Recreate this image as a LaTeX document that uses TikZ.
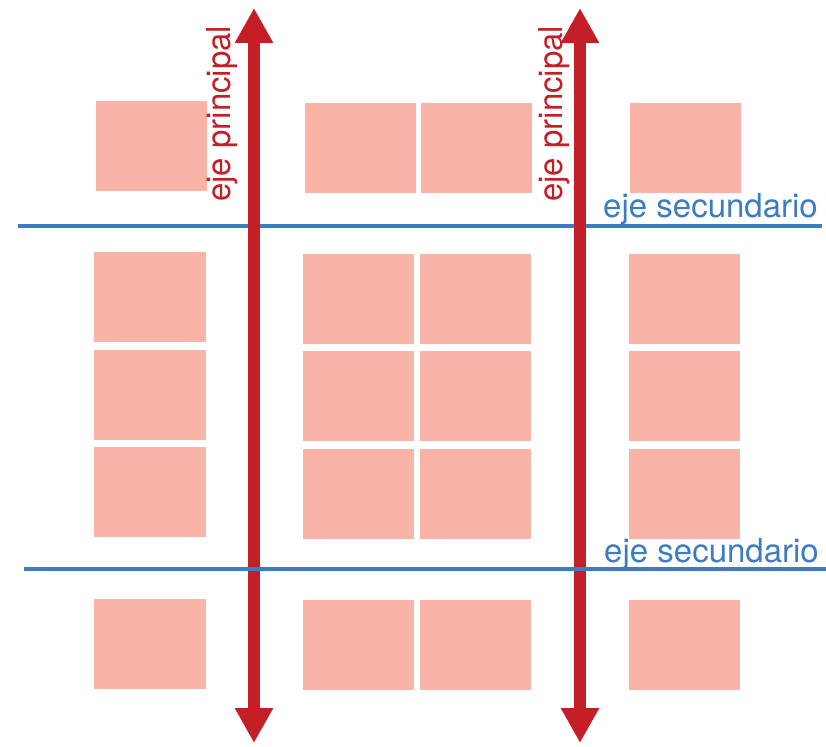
\documentclass[tikz,border=0pt]{standalone}
\usepackage{fontspec}
\setmainfont{TeX Gyre Heros}
\usetikzlibrary{arrows.meta}
\definecolor{tilepink}{HTML}{F9B3A7}
\definecolor{axisred}{HTML}{C41F26}
\definecolor{axisblue}{HTML}{3D7DBE}
\tikzset{
  tile/.style={fill=tilepink},
  mainaxis/.style={draw=axisred, line width=12pt,
    {Triangle[width=36pt,length=35pt]}-{Triangle[width=36pt,length=35pt]}},
  secaxis/.style={draw=axisblue, line width=4pt},
  redlabel/.style={text=axisred, font=\fontsize{33}{40}\selectfont, inner sep=0pt, rotate=90, anchor=base west},
  bluelabel/.style={text=axisblue, font=\fontsize{33}{40}\selectfont, inner sep=0pt, anchor=base west},
}
\begin{document}
\begin{tikzpicture}[x=1pt,y=-1pt]
\useasboundingbox (0,0) rectangle (826,746);
% top row
\fill[tile] (96,101) rectangle (207,191);
\fill[tile] (305,103) rectangle (416,193);
\fill[tile] (421,103) rectangle (532,193);
\fill[tile] (630,103) rectangle (741,193);
% middle block, left column
\fill[tile] (94,252) rectangle (206,342);
\fill[tile] (94,350) rectangle (206,440);
\fill[tile] (94,447) rectangle (206,537);
% middle block, centre columns
\fill[tile] (303,254) rectangle (414,344);
\fill[tile] (420,254) rectangle (531,344);
\fill[tile] (303,351) rectangle (414,441);
\fill[tile] (420,351) rectangle (531,441);
\fill[tile] (303,449) rectangle (414,539);
\fill[tile] (420,449) rectangle (531,539);
% middle block, right column
\fill[tile] (629,254) rectangle (740,344);
\fill[tile] (629,351) rectangle (740,441);
\fill[tile] (629,449) rectangle (740,539);
% bottom row
\fill[tile] (94,599) rectangle (206,689);
\fill[tile] (303,600) rectangle (414,690);
\fill[tile] (420,600) rectangle (531,690);
\fill[tile] (629,600) rectangle (740,690);

% axes coordinates
\coordinate (s1a) at (18,225.5);
\coordinate (s1b) at (822,225.5);
\coordinate (s2a) at (24,568.5);
\coordinate (s2b) at (826,568.5);
\coordinate (p1top) at (254,8);
\coordinate (p1bot) at (254,743);
\coordinate (p2top) at (580,8);
\coordinate (p2bot) at (580,743);

\draw[secaxis] (s1a) -- (s1b);
\draw[mainaxis] (p1top) -- (p1bot);
\draw[mainaxis] (p2top) -- (p2bot);
\draw[secaxis] (s2a) -- (s2b);

\node[redlabel] (lab1) at (230,202) {eje principal};
\node[redlabel] (lab2) at (562,202) {eje principal};
\node[bluelabel] (lab3) at (603,217) {eje secundario};
\node[bluelabel] (lab4) at (604,562) {eje secundario};
\end{tikzpicture}
\end{document}
